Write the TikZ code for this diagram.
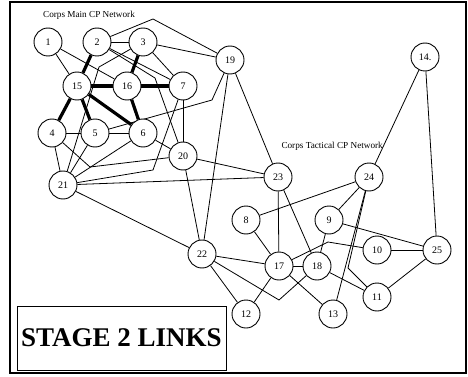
\documentclass[tikz,border=0pt]{standalone}
\usepackage{fontspec}
\setmainfont{Liberation Serif}
\usetikzlibrary{backgrounds}
\begin{document}
\begin{tikzpicture}[x=1pt,y=-1pt,
  cp/.style={circle,draw,line width=0.9pt,fill=white,minimum size=28pt,inner sep=0pt,
             font=\fontsize{10}{10}\selectfont},
  link/.style={line width=0.8pt},
  heavy/.style={line width=3.2pt},
  netlabel/.style={font=\fontsize{9.2}{9.2}\selectfont,inner sep=0pt},
  frameline/.style={line width=1.2pt},
  titlebox/.style={draw,line width=1pt,minimum width=209pt,minimum height=64pt,inner sep=0pt,
                   font=\fontsize{27}{27}\selectfont\bfseries}]
\useasboundingbox (0,0) rectangle (468,377);

% outer frame
\draw[frameline] (10,2) rectangle (466,373);

% command post nodes
\node[cp] (n1)  at (48,42)  {1};
\node[cp] (n2)  at (97,42)  {2};
\node[cp] (n3)  at (143,42) {3};
\node[cp] (n15) at (77,86)  {15};
\node[cp] (n16) at (127,86) {16};
\node[cp] (n7)  at (183,86) {7};
\node[cp] (n4)  at (52,133) {4};
\node[cp] (n5)  at (95,133) {5};
\node[cp] (n6)  at (143,133) {6};
\node[cp] (n20) at (183,156) {20};
\node[cp] (n21) at (63,185) {21};
\node[cp] (n19) at (230,60) {19};
\node[cp] (n14) at (425,57) {14.};
\node[cp] (n23) at (278,177) {23};
\node[cp] (n24) at (369,177) {24};
\node[cp] (n22) at (202,254) {22};
\node[cp] (n8)  at (246,220) {8};
\node[cp] (n9)  at (329,220) {9};
\node[cp] (n10) at (377,250) {10};
\node[cp] (n25) at (437,250) {25};
\node[cp] (n17) at (279,266) {17};
\node[cp] (n18) at (317,266) {18};
\node[cp] (n11) at (377,297) {11};
\node[cp] (n12) at (246,314) {12};
\node[cp] (n13) at (333,314) {13};

% bend points of routed links
\coordinate (k2a) at (153,19);
\coordinate (k2b) at (155,78);
\coordinate (k3)  at (99,67);
\coordinate (k5)  at (212,100);
\coordinate (k4)  at (90,167);
\coordinate (k7)  at (153,170);
\coordinate (k24) at (348,268);
\coordinate (k22) at (279,300);
\coordinate (k17) at (328,242);

% network labels
\node[netlabel] (mainlbl) at (89,15) {Corps Main CP Network};
\node[netlabel,anchor=east] (taclbl) at (383,146) {Corps Tactical CP Network};

% title box
\node[titlebox] (title) at (121.5,338) {STAGE 2 LINKS};

\begin{scope}[on background layer]
  % stage 2 links (heavy)
  \draw[heavy] (n2) -- (n15);
  \draw[heavy] (n3) -- (n16);
  \draw[heavy] (n15) -- (n16);
  \draw[heavy] (n16) -- (n7);
  \draw[heavy] (n15) -- (n4);
  \draw[heavy] (n15) -- (n5);
  \draw[heavy] (n15) -- (n6);
  \draw[heavy] (n16) -- (n6);

  % other links
  \draw[link] (n1) -- (n15);
  \draw[link] (n1) -- (n16);
  \draw[link] (n2) -- (n3);
  \draw[link] (n2) -- (n7);
  \draw[link] (n2) -- (k2a) -- (n19);
  \draw[link] (n2) -- (k2b) -- (n20);
  \draw[link] (n3) -- (n19);
  \draw[link] (n3) -- (n7);
  \draw[link] (n3) -- (k3) -- (n21);
  \draw[link] (n4) -- (n5);
  \draw[link] (n5) -- (n6);
  \draw[link] (n4) -- (n21);
  \draw[link] (n5) -- (n21);
  \draw[link] (n6) -- (n21);
  \draw[link] (n6) -- (n20);
  \draw[link] (n7) -- (n20);
  \draw[link] (n4) -- (k4) -- (n20);
  \draw[link] (n5) -- (k5) -- (n19);
  \draw[link] (n7) -- (k7) -- (n21);
  \draw[link] (n19) -- (n23);
  \draw[link] (n19) -- (n22);
  \draw[link] (n20) -- (n22);
  \draw[link] (n20) -- (n23);
  \draw[link] (n21) -- (n23);
  \draw[link] (n21) -- (n22);
  \draw[link] (n14) -- (n24);
  \draw[link] (n14) -- (n25);
  \draw[link] (n23) -- (n17);
  \draw[link] (n23) -- (n18);
  \draw[link] (n24) -- (n8);
  \draw[link] (n24) -- (n9);
  \draw[link] (n24) -- (n13);
  \draw[link] (n24) -- (k24) -- (n11);
  \draw[link] (n9) -- (n25);
  \draw[link] (n10) -- (n25);
  \draw[link] (n25) -- (n11);
  \draw[link] (n8) -- (n17);
  \draw[link] (n22) -- (n17);
  \draw[link] (n22) -- (n12);
  \draw[link] (n22) -- (k22) -- (n18);
  \draw[link] (n17) -- (n18);
  \draw[link] (n17) -- (n12);
  \draw[link] (n17) -- (n13);
  \draw[link] (n9) -- (n18);
  \draw[link] (n17) -- (k17) -- (n10);
  \draw[link] (n18) -- (n11);
\end{scope}
\end{tikzpicture}
\end{document}
